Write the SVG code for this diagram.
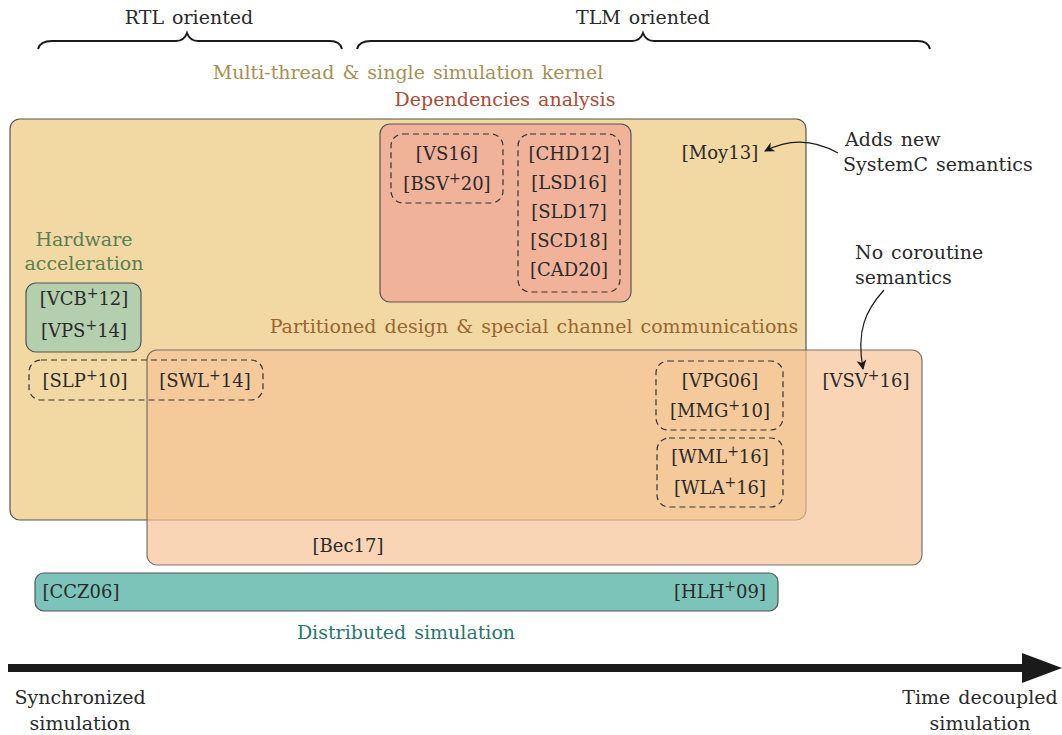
<svg xmlns="http://www.w3.org/2000/svg" width="1062" height="735" viewBox="0 0 1062 735">
<style>
text{font-family:"DejaVu Serif","Liberation Serif",serif;font-size:18px;fill:#2a2a2a;text-anchor:middle}
text.p{font-size:19px;word-spacing:2px}
.box{stroke:#555;stroke-width:1.2}
.dash{fill:none;stroke:#333;stroke-width:1.2;stroke-dasharray:6 4}
.brace{fill:none;stroke:#1a1a1a;stroke-width:2}
.sup{font-size:14px}
.conn{fill:none;stroke:#1a1a1a;stroke-width:1.2}
</style>
<defs>
<marker id="ah" viewBox="0 0 10 10" refX="9" refY="5" markerWidth="10" markerHeight="10" markerUnits="userSpaceOnUse" orient="auto">
<path d="M0,0 L10,5 L0,10 L3,5 z" fill="#1a1a1a"/>
</marker>
</defs>
<rect width="1062" height="735" fill="#fff"/>

<g id="braces">
<path class="brace" d="M38,49 Q40,41 52,41 L176,41 Q184,41 187,33 Q190,41 198,41 L330,41 Q340,41 342,49"/>
<text class="p" x="189" y="24">RTL oriented</text>
<path class="brace" d="M357,49 Q359,41 371,41 L632,41 Q640,41 643,33 Q646,41 654,41 L918,41 Q928,41 930,49"/>
<text class="p" x="643" y="24">TLM oriented</text>
</g>

<g id="multithread">
<rect class="box" x="10" y="119" width="796" height="401" rx="10" fill="#f2d9a3"/>
<text class="p" x="408" y="79" style="fill:#a89050">Multi-thread &amp; single simulation kernel</text>
<text x="720" y="159">[Moy13]</text>
</g>

<g id="dependencies">
<rect class="box" x="380" y="124" width="251" height="178" rx="10" fill="#f0b39a"/>
<text class="p" x="505" y="106" style="fill:#b04a30">Dependencies analysis</text>
<rect class="dash" x="391" y="134" width="112" height="69" rx="12"/>
<text x="447" y="160">[VS16]</text>
<text x="447" y="190">[BSV<tspan class="sup" dy="-7">+</tspan><tspan dy="7">20]</tspan></text>
<rect class="dash" x="518" y="134" width="102" height="158" rx="12"/>
<text x="569" y="160">[CHD12]</text>
<text x="569" y="189">[LSD16]</text>
<text x="569" y="218">[SLD17]</text>
<text x="569" y="247">[SCD18]</text>
<text x="569" y="276">[CAD20]</text>
</g>

<g id="hardware">
<text class="p" x="84" y="246" style="fill:#5a7f50">Hardware</text>
<text class="p" x="84" y="270" style="fill:#5a7f50">acceleration</text>
<rect class="box" x="26" y="283" width="115" height="69" rx="10" fill="#b4cfae"/>
<text x="84" y="305">[VCB<tspan class="sup" dy="-7">+</tspan><tspan dy="7">12]</tspan></text>
<text x="84" y="337">[VPS<tspan class="sup" dy="-7">+</tspan><tspan dy="7">14]</tspan></text>
</g>

<g id="partitioned">
<text class="p" x="534" y="333" style="fill:#9a6530">Partitioned design &amp; special channel communications</text>
<rect class="box" x="147" y="350" width="775" height="215" rx="10" fill="#f6c396" fill-opacity="0.7" stroke-opacity="0.8"/>
<rect class="dash" x="29" y="360" width="234" height="40" rx="12"/>
<text x="85" y="387">[SLP<tspan class="sup" dy="-7">+</tspan><tspan dy="7">10]</tspan></text>
<text x="205" y="387">[SWL<tspan class="sup" dy="-7">+</tspan><tspan dy="7">14]</tspan></text>
<rect class="dash" x="656" y="361" width="127" height="69" rx="12"/>
<text x="720" y="387">[VPG06]</text>
<text x="720" y="417">[MMG<tspan class="sup" dy="-7">+</tspan><tspan dy="7">10]</tspan></text>
<rect class="dash" x="657" y="438" width="126" height="69" rx="12"/>
<text x="720" y="463">[WML<tspan class="sup" dy="-7">+</tspan><tspan dy="7">16]</tspan></text>
<text x="720" y="494">[WLA<tspan class="sup" dy="-7">+</tspan><tspan dy="7">16]</tspan></text>
<text x="866" y="387">[VSV<tspan class="sup" dy="-7">+</tspan><tspan dy="7">16]</tspan></text>
<text x="348" y="552">[Bec17]</text>
</g>

<g id="distributed">
<rect class="box" x="35" y="573" width="743" height="38" rx="9" fill="#7cc4b9"/>
<text x="81" y="598">[CCZ06]</text>
<text x="720" y="598">[HLH<tspan class="sup" dy="-7">+</tspan><tspan dy="7">09]</tspan></text>
<text class="p" x="406" y="639" style="fill:#1f7a6a">Distributed simulation</text>
</g>

<g id="notes">
<text class="p" x="845" y="146" style="text-anchor:start">Adds new</text>
<text class="p" x="843" y="171" style="text-anchor:start">SystemC semantics</text>
<text class="p" x="855" y="259" style="text-anchor:start">No coroutine</text>
<text class="p" x="855" y="284" style="text-anchor:start">semantics</text>
</g>

<g id="connectors">
<path class="conn" d="M838,153 C815,140 790,138 765,151" marker-end="url(#ah)"/>
<path class="conn" d="M884,290 C866,310 856,330 863,369" marker-end="url(#ah)"/>
</g>

<g id="axis">
<rect x="8" y="664" width="1018" height="8" fill="#1a1a1a"/>
<path d="M1022,653 L1062,668 L1022,683 z" fill="#1a1a1a"/>
<text class="p" x="80" y="704">Synchronized</text>
<text class="p" x="80" y="730">simulation</text>
<text class="p" x="980" y="704">Time decoupled</text>
<text class="p" x="980" y="730">simulation</text>
</g>
</svg>
